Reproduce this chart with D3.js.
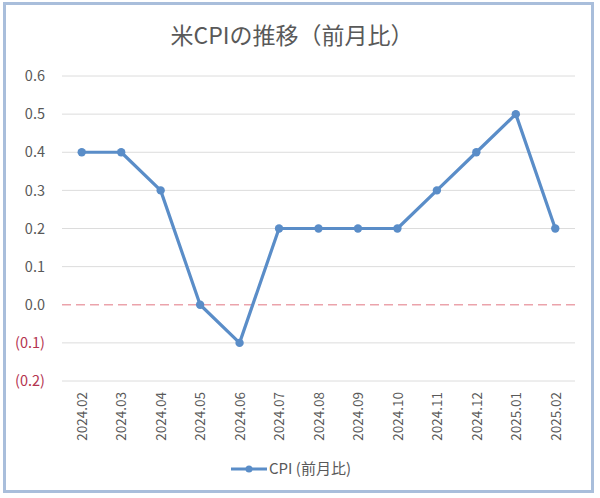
<!DOCTYPE html>
<html>
<head>
<meta charset="utf-8">
<script src="https://cdn.jsdelivr.net/npm/d3@7"></script>
<style>
  body { margin: 0; background: #fff; }
  text { font-family: "Noto Sans CJK JP", "Noto Sans", sans-serif; }
</style>
</head>
<body>
<svg width="600" height="498"></svg>
<script>
const months = ['2024.02', '2024.03', '2024.04', '2024.05', '2024.06', '2024.07', '2024.08',
  '2024.09', '2024.10', '2024.11', '2024.12', '2025.01', '2025.02'];
const cpi = [0.4, 0.4, 0.3, 0.0, -0.1, 0.2, 0.2, 0.2, 0.2, 0.3, 0.4, 0.5, 0.2];
const yTicks = [-0.2, -0.1, 0.0, 0.1, 0.2, 0.3, 0.4, 0.5, 0.6];

const svg = d3.select('svg');
const lineColor = '#5a8dc8';

// frame
svg.append('rect')
  .attr('x', 4.5).attr('y', 3.5)
  .attr('width', 588).attr('height', 488)
  .attr('fill', '#fff')
  .attr('stroke', '#a9bedb')
  .attr('stroke-width', 3);

svg.append('text')
  .attr('x', 292).attr('y', 44)
  .attr('text-anchor', 'middle')
  .attr('font-size', 23)
  .attr('fill', '#595959')
  .text('米CPIの推移（前月比）');

const margin = { top: 76, left: 62, right: 25, bottom: 117 };
const width = 600, height = 498;

const x = d3.scalePoint()
  .domain(months)
  .range([margin.left, width - margin.right])
  .padding(0.5);

const y = d3.scaleLinear()
  .domain([-0.2, 0.6])
  .range([height - margin.bottom, margin.top]);

// gridlines
svg.append('g').selectAll('line')
  .data(yTicks.filter(d => d !== 0))
  .enter().append('line')
  .attr('x1', margin.left).attr('x2', width - margin.right)
  .attr('y1', d => y(d)).attr('y2', d => y(d))
  .attr('stroke', '#dcdcdc')
  .attr('stroke-width', 1);

// zero line
svg.append('line')
  .attr('x1', margin.left).attr('x2', width - margin.right)
  .attr('y1', y(0)).attr('y2', y(0))
  .attr('stroke', '#eba3ab')
  .attr('stroke-width', 1.6)
  .attr('stroke-dasharray', '9,5');

// y axis labels
const fmt = d => d < 0 ? `(${d3.format('.1f')(-d)})` : d3.format('.1f')(d);
const yAxis = d3.axisLeft(y)
  .tickValues(yTicks)
  .tickFormat(fmt)
  .tickSize(0)
  .tickPadding(0);
const yAxisG = svg.append('g')
  .attr('transform', `translate(45,0)`)
  .call(yAxis);
yAxisG.select('.domain').remove();
yAxisG.selectAll('text')
  .attr('font-size', 14.5)
  .attr('font-family', '"Noto Sans", sans-serif')
  .attr('fill', d => d < 0 ? '#b4334f' : '#595959');

// x axis labels
const xAxis = d3.axisBottom(x).tickSize(0).tickPadding(0);
const xAxisG = svg.append('g')
  .attr('transform', `translate(0,${y(-0.2) + 11})`)
  .call(xAxis);
xAxisG.select('.domain').remove();
xAxisG.selectAll('text')
  .attr('font-size', 13.5)
  .attr('font-family', '"Noto Sans", sans-serif')
  .attr('fill', '#595959')
  .attr('text-anchor', 'end')
  .attr('dy', '0.35em')
  .attr('transform', 'rotate(-90)')
  .attr('x', 0).attr('y', 0);

// line
const line = d3.line()
  .x((d, i) => x(months[i]))
  .y(d => y(d));

svg.append('path')
  .datum(cpi)
  .attr('d', line)
  .attr('fill', 'none')
  .attr('stroke', lineColor)
  .attr('stroke-width', 3.2)
  .attr('stroke-linejoin', 'round');

svg.append('g').selectAll('circle')
  .data(cpi)
  .enter().append('circle')
  .attr('cx', (d, i) => x(months[i]))
  .attr('cy', d => y(d))
  .attr('r', 4.2)
  .attr('fill', lineColor);

// legend
const legendG = svg.append('g').attr('transform', 'translate(231,469)');
legendG.append('line')
  .attr('x1', 0).attr('x2', 36)
  .attr('stroke', lineColor)
  .attr('stroke-width', 3);
legendG.append('circle')
  .attr('cx', 18).attr('r', 3.5)
  .attr('fill', lineColor);
legendG.append('text')
  .attr('x', 38).attr('dy', '0.35em')
  .attr('font-size', 15)
  .attr('fill', '#595959')
  .text('CPI (前月比)');
</script>
</body>
</html>
